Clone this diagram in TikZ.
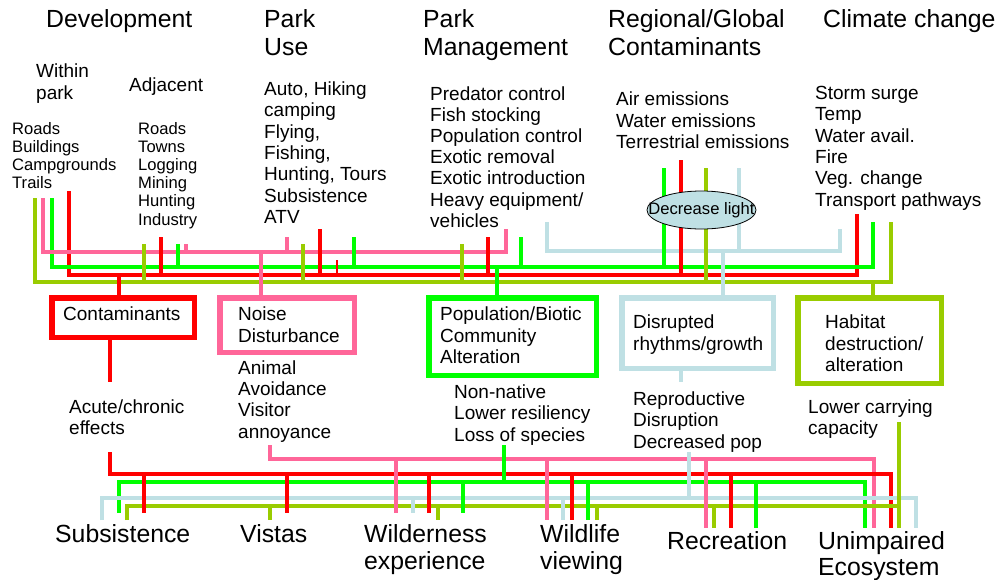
\documentclass[tikz,border=0pt]{standalone}
\usepackage{fontspec}
\setmainfont{Liberation Sans}
\usetikzlibrary{shapes.geometric}

\definecolor{cRed}{HTML}{FF0000}
\definecolor{cGreen}{HTML}{00FF00}
\definecolor{cPink}{HTML}{FF6699}
\definecolor{cBlue}{HTML}{BFE0E4}
\definecolor{cOlive}{HTML}{99CC00}

\tikzset{
  bus/.style={line width=4pt},
  rbus/.style={bus, draw=cRed},
  gbus/.style={bus, draw=cGreen},
  pbus/.style={bus, draw=cPink},
  bbus/.style={bus, draw=cBlue},
  obus/.style={bus, draw=cOlive},
  head/.style={anchor=base west, inner sep=0pt, font=\fontsize{24.8}{28}\selectfont},
  txt/.style={anchor=base west, inner sep=0pt, font=\fontsize{19}{21}\selectfont},
  small/.style={anchor=base west, inner sep=0pt, font=\fontsize{16.6}{18}\selectfont},
  effectbox/.style={rectangle, line width=5.5pt, inner sep=0pt, fill=white},
}

% one text node per line: style, name, x, first baseline, line step, lines
\newcommand{\textblock}[6]{%
  \foreach \ln [count=\k from 0] in {#6}{%
    \node[#1] (#2\k) at ({#3},{#4+\k*#5}) {\ln};
  }%
}

\begin{document}
\begin{tikzpicture}[x=1pt,y=-1pt]
\useasboundingbox (0,0) rectangle (1002,579);
\fill[white] (0,0) rectangle (1002,579);

% ---------- sources ----------
\textblock{head}{dev}{46}{27}{28}{Development}
\textblock{head}{use}{264}{27}{28}{Park, Use}
\textblock{head}{mgmt}{423}{27}{28}{Park, Management}
\textblock{head}{reg}{608}{27}{28}{Regional/Global, Contaminants}
\textblock{head}{clim}{823}{27}{28}{Climate change}

\textblock{txt}{within}{36}{77.5}{21.5}{Within, park}
\textblock{txt}{adj}{129}{91}{21}{Adjacent}
\textblock{small}{inpark}{12}{134}{18.2}{Roads, Buildings, Campgrounds, Trails}
\textblock{small}{adjlist}{138}{134}{18.2}{Roads, Towns, Logging, Mining, Hunting, Industry}
\textblock{txt}{uselist}{264}{95.5}{21.3}{{Auto, Hiking}, camping, {Flying,}, {Fishing,}, {Hunting, Tours}, Subsistence, ATV}
\textblock{txt}{mgmtlist}{430}{100.5}{21.1}{Predator control, Fish stocking, Population control, Exotic removal, Exotic introduction, Heavy equipment/, vehicles}
\textblock{txt}{reglist}{616}{105.5}{21.5}{Air emissions, Water emissions, Terrestrial emissions}
\textblock{txt}{climlist}{815}{99.5}{21.3}{Storm surge, Temp, Water avail., Fire, Veg. change, Transport pathways}

% ---------- upper buses ----------
\draw[obus] (35,198) -- (35,282) -- (891,282) -- (891,222);
\draw[rbus] (69,191) -- (69,275) -- (857,275) -- (857,214);
\draw[gbus] (52,198) -- (52,267) -- (873,267) -- (873,222);
\draw[pbus] (43,198) -- (43,252) -- (506,252) -- (506,229);
\draw[bbus] (547,222) -- (547,251) -- (840,251) -- (840,229);

\foreach \x/\t in {144/244, 303/244, 462/244, 706/168} \draw[obus] (\x,\t) -- (\x,282);
\foreach \x/\t in {161/237, 320/229, 488/237, 681/160} \draw[rbus] (\x,\t) -- (\x,275);
\draw[draw=cRed, line width=1.5pt] (337,260) -- (337,275);
\foreach \x/\t in {178/244, 354/237, 521/237, 664/168} \draw[gbus] (\x,\t) -- (\x,267);
\foreach \x/\t in {186/244, 287/237} \draw[pbus] (\x,\t) -- (\x,252);
\draw[bbus] (739,168) -- (739,251);

\node[ellipse, draw=black, line width=0.8pt, fill=cBlue, minimum width=109, minimum height=38,
      inner sep=0pt, font=\fontsize{16.6}{18}\selectfont] (light) at (701.5,210) {\makebox[0pt]{Decrease light}};

% ---------- effect boxes ----------
\node[effectbox, draw=cRed,   minimum width=142.5, minimum height=39.5] (cont) at (123,317.5) {};
\node[effectbox, draw=cPink,  minimum width=134.5, minimum height=54.5] (noise) at (287,325) {};
\node[effectbox, draw=cGreen, minimum width=167.5, minimum height=77.5] (pop) at (512.5,336.5) {};
\node[effectbox, draw=cBlue,  minimum width=151.5, minimum height=70.5] (disr) at (697.5,333) {};
\node[effectbox, draw=cOlive, minimum width=143.5, minimum height=85.5] (hab) at (869.5,340.5) {};

\coordinate (inR) at (119,275);
\coordinate (inP) at (261,252);
\coordinate (inG) at (497,267);
\coordinate (inB) at (723,251);
\coordinate (inO) at (873,282);
\draw[rbus] (inR) -- (inR |- cont.north);
\draw[pbus] (inP) -- (inP |- noise.north);
\draw[gbus] (inG) -- (inG |- pop.north);
\draw[bbus] (inB) -- (inB |- disr.north);
\draw[obus] (inO) -- (inO |- hab.north);

\textblock{txt}{contT}{63}{320.5}{21.5}{Contaminants}
\textblock{txt}{noiseT}{238}{320.5}{21.5}{Noise, Disturbance}
\textblock{txt}{popT}{440}{320.5}{21.5}{Population/Biotic, Community, Alteration}
\textblock{txt}{disrT}{633}{328.5}{21.5}{Disrupted, rhythms/growth}
\textblock{txt}{habT}{825}{328.5}{21.5}{Habitat, destruction/, alteration}

\coordinate (outR) at (110,382);
\coordinate (outB) at (681,382);
\draw[rbus] (outR |- cont.south) -- (outR);
\draw[bbus] (outB |- disr.south) -- (outB);

% ---------- effects ----------
\textblock{txt}{acute}{69}{413.5}{21}{Acute/chronic, effects}
\textblock{txt}{animal}{238}{374}{21.4}{Animal, Avoidance, Visitor, annoyance}
\textblock{txt}{nonnat}{454}{398}{21.7}{Non-native, Lower resiliency, Loss of species}
\textblock{txt}{repro}{633}{405}{21.5}{Reproductive, Disruption, Decreased pop}
\textblock{txt}{carry}{808}{413.5}{20.5}{Lower carrying, capacity}

% ---------- lower buses ----------
\draw[pbus] (270,445) -- (270,459) -- (874,459) -- (874,528);
\draw[rbus] (110,452) -- (110,474) -- (891,474) -- (891,528);
\draw[gbus] (119,513) -- (119,482) -- (865,482) -- (865,528);
\draw[bbus] (102,520) -- (102,498) -- (916,498) -- (916,528);
\draw[obus] (127,520) -- (127,506) -- (899,506);
\draw[obus] (899,422) -- (899,528);
\draw[gbus] (504,445) -- (504,482);
\draw[bbus] (689,452) -- (689,498);

\foreach \x/\b in {144/513, 287/513, 429/513, 572/520, 731/528} \draw[rbus] (\x,474) -- (\x,\b);
\foreach \x/\b in {396/513, 547/520, 706/528} \draw[pbus] (\x,459) -- (\x,\b);
\foreach \x/\b in {413/513, 563/520} \draw[bbus] (\x,498) -- (\x,\b);
\foreach \x/\b in {463/513, 588/520, 756/528} \draw[gbus] (\x,482) -- (\x,\b);
\foreach \x/\b in {270/520, 438/520, 597/520, 714/528} \draw[obus] (\x,506) -- (\x,\b);

% ---------- values ----------
\textblock{head}{subs}{55}{542}{27}{Subsistence}
\textblock{head}{vistas}{240}{542}{27}{Vistas}
\textblock{head}{wild}{364}{542}{27}{Wilderness, experience}
\textblock{head}{wlife}{540}{542}{27}{Wildlife, viewing}
\textblock{head}{recr}{667}{549}{27}{Recreation}
\textblock{head}{unimp}{818}{549}{26.5}{Unimpaired, Ecosystem}
\end{tikzpicture}
\end{document}
